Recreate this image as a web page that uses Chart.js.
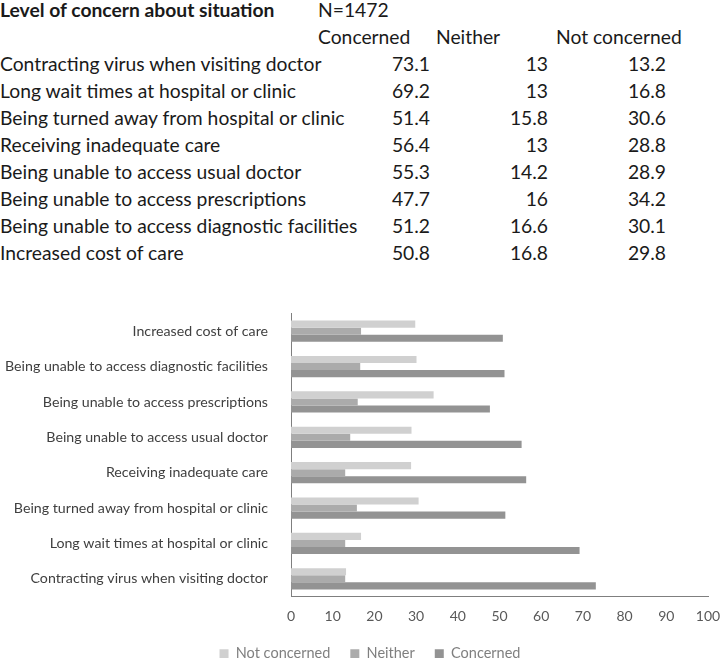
<!DOCTYPE html>
<html>
<head>
<meta charset="utf-8">
<script src="https://cdn.jsdelivr.net/npm/chart.js@4.4.1/dist/chart.umd.min.js"></script>
<style>
  html, body { margin: 0; padding: 0; background: #fff; overflow: hidden; }
  body { width: 720px; height: 658px; position: relative; font-family: Lato, "Noto Sans", sans-serif; color: #1a1a1a; }
  #table { position: absolute; left: 0; top: -4px; width: 720px; font-size: 19.3px; }
  .row { position: relative; height: 27px; line-height: 27px; white-space: nowrap; }
  .row span { position: absolute; }
  .title { font-weight: bold; }
  .num { text-align: right; }
  #chartBox { position: absolute; left: 0; top: 290px; width: 720px; height: 381px; }
</style>
</head>
<body>
<div id="table"></div>
<div id="chartBox"><canvas id="concernChart"></canvas></div>

<script>
// Survey data (table order)
const categories = [
    'Contracting virus when visiting doctor',
    'Long wait times at hospital or clinic',
    'Being turned away from hospital or clinic',
    'Receiving inadequate care',
    'Being unable to access usual doctor',
    'Being unable to access prescriptions',
    'Being unable to access diagnostic facilities',
    'Increased cost of care'
];
const concerned = [73.1, 69.2, 51.4, 56.4, 55.3, 47.7, 51.2, 50.8];
const neither = [13, 13, 15.8, 13, 14.2, 16, 16.6, 16.8];
const notConcerned = [13.2, 16.8, 30.6, 28.8, 28.9, 34.2, 30.1, 29.8];
const xTicks = [0, 10, 20, 30, 40, 50, 60, 70, 80, 90, 100];
const sampleSize = 'N=1472';

/**
 * Build the text table above the chart
 */
function buildTable() {
    const table = document.getElementById('table');
    let html = '';
    html += `<div class="row"><span class="title" style="left:0">Level of concern about situation</span>` +
            `<span style="left:318px">${sampleSize}</span></div>`;
    html += `<div class="row"><span style="left:318px">Concerned</span>` +
            `<span style="left:436px">Neither</span>` +
            `<span style="left:556px">Not concerned</span></div>`;

    categories.forEach((cat, i) => {
        html += `<div class="row"><span style="left:0">${cat}</span>` +
                `<span class="num" style="right:${720 - 430}px">${concerned[i]}</span>` +
                `<span class="num" style="right:${720 - 548}px">${neither[i]}</span>` +
                `<span class="num" style="right:${720 - 666}px">${notConcerned[i]}</span></div>`;
    });
    table.innerHTML = html;
}

buildTable();

// Legend sits a little right of the canvas centre in the original
const legendShift = {
    id: 'legendShift',
    afterLayout(chart) {
        if (chart.legend) chart.legend.left += 20;
    }
};

// Horizontal grouped bar chart
const ctx = document.getElementById('concernChart');
new Chart(ctx, {
    type: 'bar',
    data: {
        labels: categories,
        datasets: [
            { label: 'Not concerned', data: notConcerned, backgroundColor: '#d0d0d0' },
            { label: 'Neither', data: neither, backgroundColor: '#ababab' },
            { label: 'Concerned', data: concerned, backgroundColor: '#939393' }
        ]
    },
    options: {
        indexAxis: 'y',
        responsive: true,
        maintainAspectRatio: false,
        animation: false,
        categoryPercentage: 0.6,
        barPercentage: 1.0,
        layout: {
            padding: { top: 23, left: 0, right: 0 }
        },
        plugins: {
            legend: {
                position: 'bottom',
                labels: {
                    boxWidth: 9,
                    boxHeight: 9,
                    padding: 20,
                    color: '#7f7f7f',
                    font: { family: 'Lato', size: 14.5 }
                }
            },
            tooltip: { enabled: false }
        },
        scales: {
            x: {
                min: 0,
                max: 100,
                afterBuildTicks: (scale) => {
                    scale.ticks = xTicks.map(v => ({ value: v }));
                },
                afterFit: (scale) => {
                    scale.height = 30;
                    scale.paddingRight = 12;
                },
                grid: { display: false },
                border: { display: true, color: '#7f7f7f', width: 1 },
                ticks: {
                    padding: 4,
                    color: '#595959',
                    font: { family: 'Lato', size: 14 }
                }
            },
            y: {
                reverse: true,
                afterFit: (scale) => { scale.width = 291; },
                grid: { display: false },
                border: { display: true, color: '#7f7f7f', width: 1 },
                ticks: {
                    padding: 15,
                    color: '#404040',
                    font: { family: 'Lato', size: 14.2 }
                }
            }
        }
    },
    plugins: [legendShift]
});
</script>
</body>
</html>
